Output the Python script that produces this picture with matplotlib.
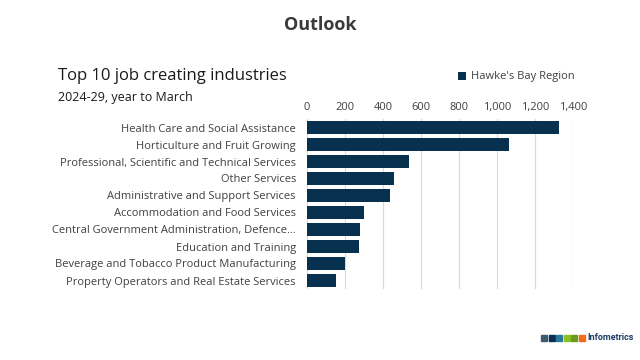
#!/usr/bin/env python3
"""
Top 10 job creating industries, Hawke's Bay Region, 2024-29 outlook.
"""

import matplotlib
matplotlib.use("Agg")
import matplotlib.pyplot as plt
from matplotlib.patches import Rectangle

# Data
industries = [
    "Health Care and Social Assistance",
    "Horticulture and Fruit Growing",
    "Professional, Scientific and Technical Services",
    "Other Services",
    "Administrative and Support Services",
    "Accommodation and Food Services",
    "Central Government Administration, Defence\u2026",
    "Education and Training",
    "Beverage and Tobacco Product Manufacturing",
    "Property Operators and Real Estate Services",
]
jobs = [1326, 1063, 537, 456, 437, 300, 281, 274, 200, 155]
x_ticks = [0, 200, 400, 600, 800, 1000, 1200, 1400]
series_name = "Hawke's Bay Region"

BAR_COLOR = "#08314f"
TEXT_COLOR = "#404040"
GRID_COLOR = "#d9d9d9"

plt.rcParams["font.family"] = ["Open Sans", "DejaVu Sans"]

fig = plt.figure(figsize=(6.4, 3.6), dpi=100)
fig.patch.set_facecolor("white")

# Plot area placed in pixel terms of the 640x360 canvas
ax = fig.add_axes([307 / 640, 71 / 360, 266 / 640, 170 / 360])

y_pos = list(range(len(industries)))
ax.barh(y_pos, jobs, height=0.73, color=BAR_COLOR, zorder=3,
        label=series_name)
ax.set_ylim(len(industries) - 0.5, -0.5)
ax.set_xlim(0, 1400)

ax.set_yticks(y_pos)
ax.set_yticklabels(industries, fontsize=8, color=TEXT_COLOR)
ax.tick_params(axis="y", length=0, pad=8)

ax.xaxis.tick_top()
ax.set_xticks(x_ticks)
ax.set_xticklabels([f"{t:,}" for t in x_ticks], fontsize=8, color=TEXT_COLOR)
ax.tick_params(axis="x", length=0, pad=4)

ax.grid(axis="x", color=GRID_COLOR, linewidth=0.8, zorder=0)
for side in ["top", "right", "bottom", "left"]:
    ax.spines[side].set_visible(False)

# Titles
fig.text(0.5, 1 - 25 / 360, "Outlook", ha="center", va="center",
         fontsize=13, fontweight="bold", color="#3a3a3a")
fig.text(58 / 640, 1 - 76 / 360, "Top 10 job creating industries",
         ha="left", va="center", fontsize=12, color="#1a1a1a")
fig.text(58 / 640, 1 - 97 / 360, "2024-29, year to March",
         ha="left", va="center", fontsize=9, color="#1a1a1a")

# Legend
fig.legend(loc="center left", bbox_to_anchor=(454 / 640, 1 - 77 / 360),
           frameon=False, fontsize=8, handlelength=0.7, handleheight=0.7,
           handletextpad=0.4, labelcolor=TEXT_COLOR, borderaxespad=0)

# Infometrics logo
logo_colors = ["#3d5a73", "#0b2f55", "#2b7a9b", "#8cbf26", "#6a9a1f", "#f26b1d"]
for i, c in enumerate(logo_colors):
    fig.patches.append(Rectangle(((541 + i * 7.5) / 640, 1 - 341 / 360),
                                 6 / 640, 6 / 360, color=c,
                                 transform=fig.transFigure, figure=fig))
fig.text(587 / 640, 1 - 338 / 360, "Infometrics", ha="left", va="center",
         fontsize=6.5, fontweight="bold", color="#1f3d66",
         family=["Liberation Sans Narrow", "Roboto", "DejaVu Sans"])

fig.savefig("out.png", dpi=100, facecolor="white")
